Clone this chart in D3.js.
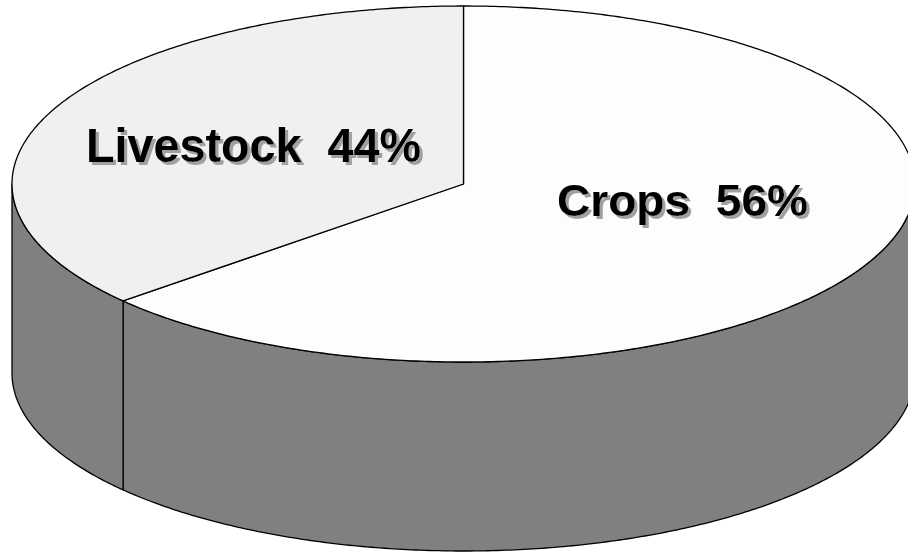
<!DOCTYPE html>
<html>
<head>
<meta charset="utf-8">
<script src="https://cdn.jsdelivr.net/npm/d3@7"></script>
<style>
  html, body { margin: 0; padding: 0; background: #ffffff; }
  svg { display: block; }
</style>
</head>
<body>
<script>
// ---- data ----
const categories = ["Crops", "Livestock"];
const values = [56, 44];
const labels = ["Crops  56%", "Livestock  44%"];
const topColors = ["#fdfdfd", "#f0f0f0"];

// ---- layout ----
const W = 908, H = 554;
const cx = 463.5, cy = 184, rx = 451.5, ry = 178, depth = 189;
const tiltK = 0.345; // foreshortening used by the original 3D projection
const sideColor = "#808080";

const svg = d3.select("body").append("svg")
  .attr("width", W).attr("height", H);

// drop-shadow filter for labels
const f = svg.append("defs").append("filter")
  .attr("id", "shadow").attr("x", "-5%").attr("y", "-20%")
  .attr("width", "115%").attr("height", "150%");
f.append("feOffset").attr("in", "SourceAlpha").attr("dx", 3).attr("dy", 3).attr("result", "off");
f.append("feGaussianBlur").attr("in", "off").attr("stdDeviation", 0.7).attr("result", "blur");
f.append("feFlood").attr("flood-color", "#a0a0a0").attr("result", "col");
f.append("feComposite").attr("in", "col").attr("in2", "blur").attr("operator", "in").attr("result", "sh");
const m = f.append("feMerge");
m.append("feMergeNode").attr("in", "sh");
m.append("feMergeNode").attr("in", "SourceGraphic");

const pie = d3.pie().sort(null).value(d => d)(values);

// map true pie angle -> ellipse parametric angle
function proj(theta) {
  const a = Math.atan2(Math.sin(theta), tiltK * Math.cos(theta));
  return a + 2 * Math.PI * Math.round((theta - a) / (2 * Math.PI));
}
function pt(phi, dy) {
  return [cx + rx * Math.sin(phi), cy - ry * Math.cos(phi) + (dy || 0)];
}
function arcPts(a, b, dy) {
  const n = Math.max(2, Math.ceil(Math.abs(b - a) / 0.01));
  return d3.range(n + 1).map(i => pt(a + (b - a) * i / n, dy));
}
const line = d3.line();

const g = svg.append("g");

// side walls (front half only: 90deg .. 270deg)
const frontA = Math.PI / 2, frontB = 3 * Math.PI / 2;
pie.forEach((s, i) => {
  const a = Math.max(proj(s.startAngle), frontA);
  const b = Math.min(proj(s.endAngle), frontB);
  if (b <= a) return;
  const pts = arcPts(a, b, 0).concat(arcPts(b, a, depth));
  g.append("path")
    .attr("d", line(pts) + "Z")
    .attr("fill", sideColor)
    .attr("stroke", "#000")
    .attr("stroke-width", 1.3)
    .attr("stroke-linejoin", "round");
});

// top faces
pie.forEach((s, i) => {
  const a = proj(s.startAngle), b = proj(s.endAngle);
  const pts = [[cx, cy]].concat(arcPts(a, b, 0));
  g.append("path")
    .attr("d", line(pts) + "Z")
    .attr("fill", topColors[i])
    .attr("stroke", "#000")
    .attr("stroke-width", 1.3)
    .attr("stroke-linejoin", "round");
});

// labels with drop shadow
const labelPos = [[557, 216], [86, 162]];
const fontSize = [45, 48];
const labelLen = [251, 335];
labels.forEach((t, i) => {
  const [x, y] = labelPos[i];
  g.append("text")
    .attr("x", x).attr("y", y)
    .attr("fill", "#000")
    .attr("filter", "url(#shadow)")
    .attr("font-family", "Liberation Sans, Arial, sans-serif")
    .attr("font-weight", "bold")
    .attr("font-size", fontSize[i])
    .attr("textLength", labelLen[i])
    .attr("lengthAdjust", "spacingAndGlyphs")
    .style("white-space", "pre")
    .text(t);
});
</script>
</body>
</html>
